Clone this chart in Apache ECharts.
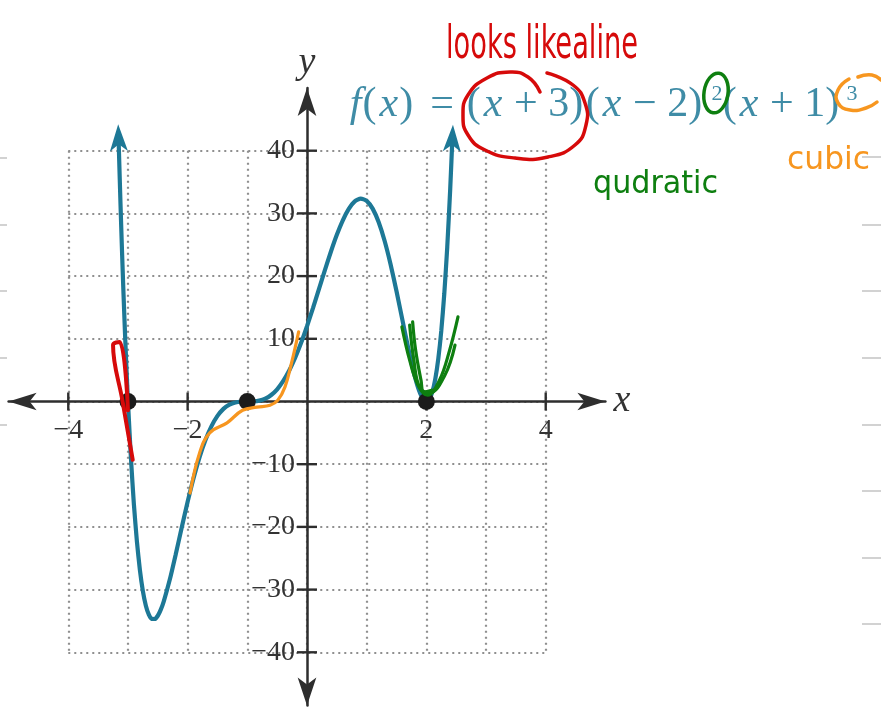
<!DOCTYPE html>
<html>
<head>
<meta charset="utf-8">
<script src="https://cdn.jsdelivr.net/npm/echarts@6/dist/echarts.min.js"></script>
<style>
  html, body { margin: 0; padding: 0; background: #ffffff; }
  #chart { width: 881px; height: 716px; }
</style>
</head>
<body>
<div id="chart"></div>
<script>
// Sampled values of f(x) = (x + 3)(x - 2)^2 (x + 1)^3 over the drawn stretch of the curve
const curveX = [-3.16, -3.15, -3.125, -3.1, -3.075, -3.05, -3.025, -3.0,
  -2.95, -2.9, -2.85, -2.8, -2.75, -2.7, -2.65, -2.6, -2.55, -2.5, -2.45, -2.4,
  -2.3, -2.2, -2.1, -2.0, -1.9, -1.8, -1.7, -1.6, -1.5, -1.4, -1.3, -1.2, -1.1, -1.0,
  -0.9, -0.8, -0.7, -0.6, -0.5, -0.4, -0.3, -0.2, -0.1, 0,
  0.1, 0.2, 0.3, 0.4, 0.5, 0.6, 0.7, 0.8, 0.9, 1.0,
  1.1, 1.2, 1.3, 1.4, 1.5, 1.6, 1.7, 1.75, 1.8, 1.85, 1.9, 1.95, 2.0,
  2.05, 2.1, 2.15, 2.2, 2.25, 2.3, 2.35, 2.4, 2.44];
const curveY = [42.93, 39.54, 31.50, 24.09, 17.26, 10.99, 5.24, 0,
  -9.08, -16.47, -22.34, -26.87, -30.23, -32.56, -34.00, -34.67, -34.69, -34.17, -33.20, -31.87,
  -28.44, -24.39, -20.14, -16, -12.20, -8.87, -6.10, -3.92, -2.30, -1.18, -0.50, -0.15, -0.02, 0,
  0.02, 0.14, 0.45, 1.04, 1.95, 3.24, 4.90, 6.94, 9.32, 12,
  14.90, 17.92, 20.95, 23.88, 26.58, 28.90, 30.72, 31.91, 32.37, 32,
  30.76, 28.62, 25.64, 21.90, 17.58, 12.94, 8.33, 6.17, 4.22, 2.53, 1.20, 0.32, 0,
  0.36, 1.52, 3.62, 6.82, 11.26, 17.14, 24.64, 33.96, 42.87];

// x-intercepts of f
const rootX = [-3, -1, 2];

// labelled ticks
const xTickValues = [-4, -2, 2, 4];
const yTickValues = [-40, -30, -20, -10, 10, 20, 30, 40];

// pen strokes added on top of the graph
const redStrokeX = [-2.92, -3.09, -3.25, -3.14, -3.0];
const redStrokeY = [-9.3, 0, 9.0, 9.5, -1.4];
const orangeStrokeX = [-1.96, -1.80, -1.63, -1.34, -1.08, -0.84, -0.62, -0.49, -0.37, -0.26, -0.14];
const orangeStrokeY = [-14.6, -8.2, -5.0, -3.4, -1.4, -0.9, -0.6, 0.2, 2.3, 6.1, 11.1];
const greenStrokeAX = [1.59, 1.72, 1.86, 2.02, 2.22, 2.39, 2.53];
const greenStrokeAY = [11.9, 6.6, 2.6, 1.0, 3.4, 8.2, 13.5];
const greenStrokeBX = [1.72, 1.79, 1.89, 2.06, 2.31, 2.48];
const greenStrokeBY = [12.2, 6.6, 2.2, 1.4, 4.2, 9.0];
const greenStrokeCX = [1.77, 1.82, 1.91, 1.96, 2.09];
const greenStrokeCY = [12.7, 8.2, 3.4, 1.5, 1.8];

const zip = (xs, ys) => xs.map((x, i) => [x, ys[i]]);

// scale of the drawing: pixels per unit and the pixel position of the origin
const X0 = 307.0, UX = 59.68, Y0 = 401.5, UY = 6.27;
const X_RANGE = [-5, 5], Y_RANGE = [-48.5, 50];

const serif = '"Liberation Serif", "Times New Roman", serif';
const hand = '"Liberation Sans Narrow", "DejaVu Sans Condensed", "Liberation Sans", sans-serif';
const axisColor = '#2e2e2e';
const labelColor = '#333333';
const curveColor = '#1d7896';
const formulaColor = '#3f8ca6';
const red = '#d60a0a', green = '#0e7f10', orange = '#f7961f';

const minus = v => (v < 0 ? '\u2212' + (-v) : String(v));

function fitScaleX(text, font, width) {
  const ctx = document.createElement('canvas').getContext('2d');
  ctx.font = font;
  return width / ctx.measureText(text).width;
}

function handText(text, size, color, left, midY, width) {
  const font = size + 'px ' + hand;
  return {
    type: 'text', x: left, y: midY, z: 20, silent: true,
    scaleX: fitScaleX(text, font, width),
    style: { text: text, font: font, fill: color, align: 'left', verticalAlign: 'middle' }
  };
}

// formula pieces, each centred on its own x position
function formulaPiece(text, cx, size) {
  return {
    type: 'text', x: cx, y: size > 30 ? 84 : 83, z: 5, silent: true,
    style: {
      text: text, fontFamily: serif, fontSize: size, fill: formulaColor,
      align: 'center', verticalAlign: 'top',
      rich: { i: { fontFamily: serif, fontSize: size, fontStyle: 'italic', fill: formulaColor, padding: [0, 1, 0, 3] } }
    }
  };
}

function tickRenderer(vertical, half) {
  return function (params, api) {
    const p = api.coord([api.value(0), api.value(1)]);
    const shape = vertical
      ? { x1: p[0], y1: p[1] - half, x2: p[0], y2: p[1] + half }
      : { x1: p[0] - half, y1: p[1], x2: p[0] + half, y2: p[1] };
    return { type: 'line', shape: shape, style: { stroke: axisColor, lineWidth: 2.4 } };
  };
}

function labelRenderer(onX) {
  return function (params, api) {
    const v = api.value(onX ? 0 : 1);
    const p = api.coord([api.value(0), api.value(1)]);
    return {
      type: 'text',
      x: onX ? p[0] : p[0] - 12,
      y: onX ? p[1] + 15 : p[1],
      style: {
        text: minus(v), fontFamily: serif, fontSize: 28, fill: labelColor,
        align: onX ? 'center' : 'right', verticalAlign: onX ? 'top' : 'middle'
      }
    };
  };
}

// notched arrow head pointing along the last segment of the curve
function curveArrow(params, api) {
  const e = api.coord([api.value(0), api.value(1)]);
  const q = api.coord([api.value(2), api.value(3)]);
  let dx = e[0] - q[0], dy = e[1] - q[1];
  const len = Math.hypot(dx, dy);
  dx /= len; dy /= len;
  const nx = -dy, ny = dx;
  const tip = [e[0] + dx * 8, e[1] + dy * 8];
  const back = 27, notch = 20, half = 9;
  return {
    type: 'polygon',
    shape: {
      points: [
        tip,
        [tip[0] - dx * back + nx * half, tip[1] - dy * back + ny * half],
        [tip[0] - dx * notch, tip[1] - dy * notch],
        [tip[0] - dx * back - nx * half, tip[1] - dy * back - ny * half]
      ]
    },
    style: { fill: curveColor }
  };
}

function penLine(xs, ys, color, width) {
  return {
    type: 'line', xAxisIndex: 1, yAxisIndex: 1, data: zip(xs, ys),
    smooth: 0.4, showSymbol: false, silent: true, z: 10,
    lineStyle: { color: color, width: width, cap: 'round', join: 'round' }
  };
}

const chart = echarts.init(document.getElementById('chart'), null, { renderer: 'canvas' });

const last = curveX.length - 1;
const dotted = { color: '#8f8f8f', width: 2.2, type: [2, 4] };

chart.setOption({
  backgroundColor: '#ffffff',
  animation: false,
  grid: [
    { // dotted background grid, x in [-4, 4], y in [-40, 40]
      left: X0 - 4 * UX, top: Y0 - 40 * UY, width: 8 * UX, height: 80 * UY,
      outerBoundsMode: 'none'
    },
    { // axes with arrow heads and the graph
      left: X0 + X_RANGE[0] * UX, top: Y0 - Y_RANGE[1] * UY,
      width: (X_RANGE[1] - X_RANGE[0]) * UX, height: (Y_RANGE[1] - Y_RANGE[0]) * UY,
      outerBoundsMode: 'none'
    }
  ],
  xAxis: [
    {
      type: 'value', gridIndex: 0, min: -4, max: 4, interval: 1,
      axisLine: { show: false }, axisTick: { show: false }, axisLabel: { show: false },
      splitLine: { show: true, lineStyle: dotted }
    },
    {
      type: 'value', gridIndex: 1, min: X_RANGE[0], max: X_RANGE[1],
      name: 'x', nameLocation: 'end', nameGap: 8,
      nameTextStyle: { fontFamily: serif, fontStyle: 'italic', fontSize: 38, color: labelColor, verticalAlign: 'middle', padding: [0, 0, 6, 0] },
      axisLine: {
        onZero: true, symbol: ['arrow', 'arrow'], symbolSize: [13, 28], symbolOffset: [0, 0],
        lineStyle: { color: axisColor, width: 2.5 }
      },
      axisTick: { show: false }, axisLabel: { show: false }, splitLine: { show: false }
    }
  ],
  yAxis: [
    {
      type: 'value', gridIndex: 0, min: -40, max: 40, interval: 10,
      axisLine: { show: false }, axisTick: { show: false }, axisLabel: { show: false },
      splitLine: { show: true, lineStyle: dotted }
    },
    {
      type: 'value', gridIndex: 1, min: Y_RANGE[0], max: Y_RANGE[1],
      name: 'y', nameLocation: 'end', nameGap: 6,
      nameTextStyle: { fontFamily: serif, fontStyle: 'italic', fontSize: 38, color: labelColor },
      axisLine: {
        onZero: true, symbol: ['arrow', 'arrow'], symbolSize: [14, 28], symbolOffset: [0, 0],
        lineStyle: { color: axisColor, width: 2.5 }
      },
      axisTick: { show: false }, axisLabel: { show: false }, splitLine: { show: false }
    }
  ],
  series: [
    { // cross ticks on the x axis
      type: 'custom', xAxisIndex: 1, yAxisIndex: 1, clip: false, silent: true, z: 1,
      data: xTickValues.map(v => [v, 0]), renderItem: tickRenderer(true, 9)
    },
    { // cross ticks on the y axis
      type: 'custom', xAxisIndex: 1, yAxisIndex: 1, clip: false, silent: true, z: 1,
      data: yTickValues.map(v => [0, v]), renderItem: tickRenderer(false, 10)
    },
    { // x tick labels
      type: 'custom', xAxisIndex: 1, yAxisIndex: 1, clip: false, silent: true, z: 1,
      data: xTickValues.map(v => [v, 0]), renderItem: labelRenderer(true)
    },
    { // y tick labels
      type: 'custom', xAxisIndex: 1, yAxisIndex: 1, clip: false, silent: true, z: 1,
      data: yTickValues.map(v => [0, v]), renderItem: labelRenderer(false)
    },
    {
      name: 'f(x)', type: 'line', xAxisIndex: 1, yAxisIndex: 1,
      data: zip(curveX, curveY), smooth: 0.2, showSymbol: false, silent: true, z: 3,
      lineStyle: { color: curveColor, width: 4.2 }
    },
    { // arrow heads at both ends of the graph
      type: 'custom', xAxisIndex: 1, yAxisIndex: 1, clip: false, silent: true, z: 3,
      data: [
        [curveX[0], curveY[0], curveX[1], curveY[1]],
        [curveX[last], curveY[last], curveX[last - 1], curveY[last - 1]]
      ],
      renderItem: curveArrow
    },
    {
      name: 'zeros', type: 'scatter', xAxisIndex: 1, yAxisIndex: 1, silent: true, z: 4,
      data: rootX.map(x => [x, 0]), symbol: 'circle', symbolSize: 17,
      itemStyle: { color: '#1b1b1b', opacity: 1 }
    },
    penLine(redStrokeX, redStrokeY, red, 4),
    penLine(orangeStrokeX, orangeStrokeY, orange, 3.2),
    penLine(greenStrokeAX, greenStrokeAY, green, 3.2),
    penLine(greenStrokeBX, greenStrokeBY, green, 3.2),
    penLine(greenStrokeCX, greenStrokeCY, green, 3.2)
  ],
  graphic: [
    // ruled notebook marks along the page edges
    ...[157, 225, 291, 358, 425, 491, 558, 624].map(y => ({
      type: 'line', silent: true, shape: { x1: 862, y1: y, x2: 881, y2: y },
      style: { stroke: '#d2d2d2', lineWidth: 2 }
    })),
    ...[158, 225, 291, 358, 425].map(y => ({
      type: 'line', silent: true, shape: { x1: 0, y1: y, x2: 7, y2: y },
      style: { stroke: '#d2d2d2', lineWidth: 2 }
    })),
    // f(x) = (x + 3)(x − 2)²(x + 1)³
    formulaPiece('{i|f}({i|x})', 380, 42),
    formulaPiece('=', 442, 42),
    formulaPiece('({i|x} + 3)', 525, 42),
    formulaPiece('({i|x} \u2212 2)', 644, 42),
    formulaPiece('2', 717, 22),
    formulaPiece('({i|x} + 1)', 781, 42),
    formulaPiece('3', 852, 22),
    // handwritten notes
    handText('looks likealine', 46, red, 446, 46, 192),
    handText('qudratic', 32, green, 593, 185, 125),
    handText('cubic', 32, orange, 787, 161, 83),
    { // loop around (x + 3)
      type: 'polyline', z: 20, silent: true,
      shape: {
        points: [[547, 73], [573, 85], [585, 103], [586, 125], [575, 145], [548, 157], [515, 158],
          [485, 150], [468, 135], [463, 115], [468, 95], [487, 78], [510, 72], [528, 77], [540, 92]],
        smooth: 0.5
      },
      style: { stroke: red, lineWidth: 3.5, fill: null, lineCap: 'round' }
    },
    { // ring around the square
      type: 'ellipse', z: 20, silent: true, rotation: -0.15, x: 716, y: 93,
      shape: { cx: 0, cy: 0, rx: 12, ry: 20 },
      style: { stroke: green, lineWidth: 3.5, fill: null }
    },
    { // ring around the cube
      type: 'polyline', z: 20, silent: true,
      shape: { points: [[849, 79], [838, 90], [838, 103], [850, 110], [866, 108], [877, 102]], smooth: 0.5 },
      style: { stroke: orange, lineWidth: 3.5, fill: null, lineCap: 'round' }
    },
    {
      type: 'polyline', z: 20, silent: true,
      shape: { points: [[858, 77], [872, 75], [881, 80]], smooth: 0.5 },
      style: { stroke: orange, lineWidth: 3.5, fill: null, lineCap: 'round' }
    }
  ]
});
</script>
</body>
</html>
